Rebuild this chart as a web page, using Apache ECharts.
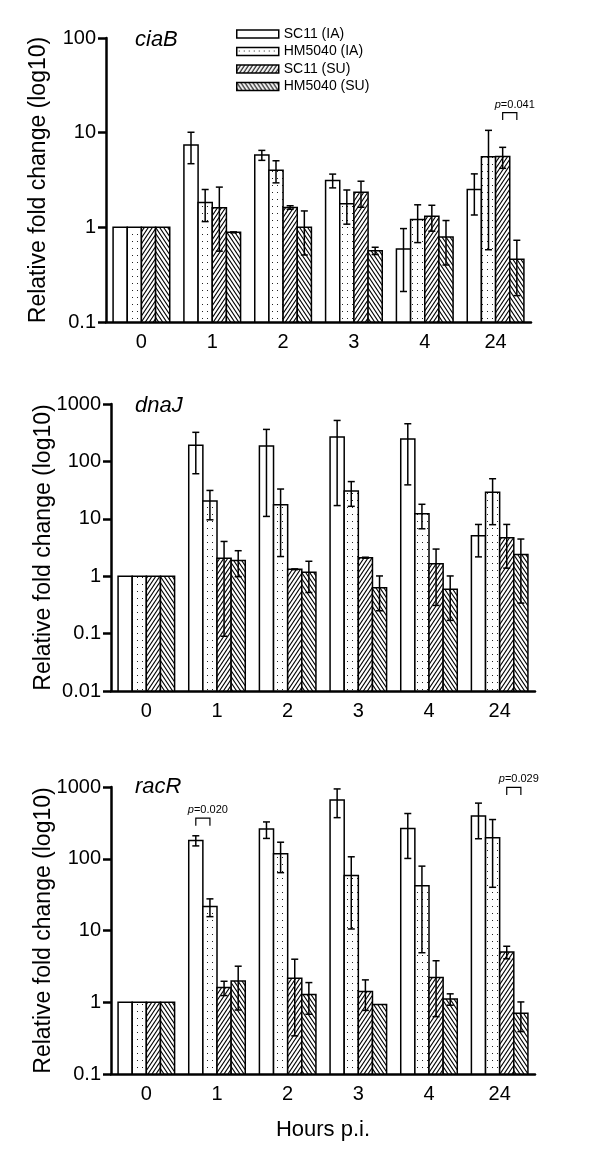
<!DOCTYPE html>
<html><head><meta charset="utf-8">
<script src="https://cdn.jsdelivr.net/npm/echarts@6/dist/echarts.min.js"></script>
<style>html,body{margin:0;padding:0;background:#fff}#c{width:600px;height:1164px}</style>
</head><body><div id="c"></div>
<script>
// ---------- data ----------
const categories = ['0', '1', '2', '3', '4', '24'];
const seriesNames = ['SC11 (IA)', 'HM5040 (IA)', 'SC11 (SU)', 'HM5040 (SU)'];
const genes = ['ciaB', 'dnaJ', 'racR'];

// ciaB means and SDs (linear fold change)
const ciaB_SC11_IA = [1, 7.4, 5.8, 3.13, 0.59, 2.51];
const ciaB_HM_IA   = [1, 1.83, 4.0, 1.78, 1.21, 5.58];
const ciaB_SC11_SU = [1, 1.61, 1.62, 2.35, 1.31, 5.6];
const ciaB_HM_SU   = [1, 0.885, 1.0, 0.566, 0.79, 0.46];
const ciaB_SC11_IA_sd = [0, 2.7, 0.7, 0.52, 0.38, 1.16];
const ciaB_HM_IA_sd   = [0, 0.68, 1.05, 0.7, 0.52, 5.0];
const ciaB_SC11_SU_sd = [0, 1.05, 0.07, 0.72, 0.4, 1.4];
const ciaB_HM_SU_sd   = [0, 0.01, 0.49, 0.05, 0.39, 0.27];

// dnaJ
const dnaJ_SC11_IA = [1, 191, 186, 267, 246, 5.07];
const dnaJ_HM_IA   = [1, 20.4, 17.6, 30.5, 12.3, 28.9];
const dnaJ_SC11_SU = [1, 2.06, 1.32, 2.1, 1.64, 4.68];
const dnaJ_HM_SU   = [1, 1.88, 1.17, 0.63, 0.59, 2.39];
const dnaJ_SC11_IA_sd = [0, 130, 175, 250, 207, 2.9];
const dnaJ_HM_IA_sd   = [0, 10.8, 15.4, 14, 5.6, 21];
const dnaJ_SC11_SU_sd = [0, 1.97, 0.02, 0.04, 1.33, 3.3];
const dnaJ_HM_SU_sd   = [0, 0.9, 0.65, 0.38, 0.42, 2.05];

// racR
const racR_SC11_IA = [1, 180, 259, 657, 264, 393];
const racR_HM_IA   = [1, 21.6, 117, 58.5, 41.9, 196];
const racR_SC11_SU = [1, 1.6, 2.16, 1.41, 2.21, 5.03];
const racR_HM_SU   = [1, 1.98, 1.28, 0.93, 1.11, 0.70];
const racR_SC11_IA_sd = [0, 29, 67, 283, 163, 203];
const racR_HM_IA_sd   = [0, 6, 53, 48, 37, 156];
const racR_SC11_SU_sd = [0, 0.36, 1.82, 0.64, 1.58, 1.0];
const racR_HM_SU_sd   = [0, 1.2, 0.6, 0, 0.2, 0.31];

// y tick labels per panel
const ciaB_ticks = ['0.1', '1', '10', '100'];
const dnaJ_ticks = ['0.01', '0.1', '1', '10', '100', '1000'];
const racR_ticks = ['0.1', '1', '10', '100', '1000'];

// p-value annotations
const pAnnotPanel = [0, 2, 2];
const pAnnotCat   = [5, 1, 5];
const pAnnotFrom  = [2, 0, 2];
const pAnnotTo    = [3, 1, 3];
const pAnnotY     = [16.3, 368, 987];
const pAnnotText  = ['0.041', '0.020', '0.029'];

// ---------- assembly ----------
const panels = [
  { means: [ciaB_SC11_IA, ciaB_HM_IA, ciaB_SC11_SU, ciaB_HM_SU],
    sds: [ciaB_SC11_IA_sd, ciaB_HM_IA_sd, ciaB_SC11_SU_sd, ciaB_HM_SU_sd], ticks: ciaB_ticks },
  { means: [dnaJ_SC11_IA, dnaJ_HM_IA, dnaJ_SC11_SU, dnaJ_HM_SU],
    sds: [dnaJ_SC11_IA_sd, dnaJ_HM_IA_sd, dnaJ_SC11_SU_sd, dnaJ_HM_SU_sd], ticks: dnaJ_ticks },
  { means: [racR_SC11_IA, racR_HM_IA, racR_SC11_SU, racR_HM_SU],
    sds: [racR_SC11_IA_sd, racR_HM_IA_sd, racR_SC11_SU_sd, racR_HM_SU_sd], ticks: racR_ticks }
];

const FONT = '"Liberation Sans", Arial, Helvetica, sans-serif';

function makeCanvas(w, h) { const c = document.createElement('canvas'); c.width = w; c.height = h; return c; }
function whitePattern() { const c = makeCanvas(4, 4); const g = c.getContext('2d'); g.fillStyle = '#fff'; g.fillRect(0, 0, 4, 4); return c; }
function dotPattern() {
  const c = makeCanvas(5, 7); const g = c.getContext('2d');
  g.fillStyle = '#fff'; g.fillRect(0, 0, 5, 7);
  g.fillStyle = '#222'; g.fillRect(2, 3, 1, 1);
  return c;
}
function hatchPattern(dir) {
  const w = 4, h = 6; const c = makeCanvas(w, h); const g = c.getContext('2d');
  g.fillStyle = '#fff'; g.fillRect(0, 0, w, h);
  g.strokeStyle = '#000'; g.lineWidth = 1.1; g.lineCap = 'square';
  for (const s of [-w, 0, w]) {
    g.beginPath();
    if (dir > 0) { g.moveTo(s, h); g.lineTo(s + w, 0); }
    else { g.moveTo(s, 0); g.lineTo(s + w, h); }
    g.stroke();
  }
  return c;
}
const patterns = [
  { image: whitePattern(), repeat: 'repeat' },
  { image: dotPattern(), repeat: 'repeat' },
  { image: hatchPattern(1), repeat: 'repeat' },
  { image: hatchPattern(-1), repeat: 'repeat' }
];

const gridDefs = [
  { left: 106, right: 69, top: 38, height: 284 },
  { left: 111, right: 65, top: 404, height: 287 },
  { left: 111, right: 65, top: 787, height: 287 }
];

function makeBarRenderer(k, yMin) {
  return function (params, api) {
    const ci = api.value(0), m = api.value(1), s = api.value(2);
    const band = api.size([1, 1])[0];
    const bw = band * 0.8 / 4;
    const top = api.coord([ci, m]);
    const base = api.coord([ci, yMin]);
    const cx = top[0] + (k - 1.5) * bw;
    const children = [{
      type: 'rect',
      shape: { x: cx - bw / 2, y: top[1], width: bw, height: base[1] - top[1] },
      style: { fill: patterns[k], stroke: '#000', lineWidth: 1.5 }
    }];
    if (s > 0) {
      const hi = api.coord([ci, m + s])[1];
      const lo = api.coord([ci, Math.max(m - s, yMin)])[1];
      const cap = 3.5;
      const st = { stroke: '#000', lineWidth: 1.5 };
      children.push({ type: 'line', shape: { x1: cx, y1: hi, x2: cx, y2: lo }, style: st });
      children.push({ type: 'line', shape: { x1: cx - cap, y1: hi, x2: cx + cap, y2: hi }, style: st });
      children.push({ type: 'line', shape: { x1: cx - cap, y1: lo, x2: cx + cap, y2: lo }, style: st });
    }
    return { type: 'group', children: children };
  };
}

function annotRenderer(params, api) {
  const ci = api.value(0), kf = api.value(1), kt = api.value(2), yv = api.value(3);
  const band = api.size([1, 1])[0];
  const bw = band * 0.8 / 4;
  const c = api.coord([ci, yv]);
  const x1 = c[0] + (kf - 1.5) * bw, x2 = c[0] + (kt - 1.5) * bw;
  const y = c[1];
  const label = api.value(4);
  return {
    type: 'group', children: [
      { type: 'polyline', shape: { points: [[x1, y + 7.5], [x1, y], [x2, y], [x2, y + 7.5]] },
        style: { stroke: '#000', lineWidth: 1.2, fill: null } },
      { type: 'text', x: (x1 + x2) / 2 + 5, y: y - 8,
        style: { text: '{i|p}=' + label, fill: '#000', font: '11px ' + FONT,
                 align: 'center', verticalAlign: 'middle',
                 rich: { i: { fontStyle: 'italic', fontSize: 11, fontFamily: FONT } } } }
    ]
  };
}

const grids = [], xAxes = [], yAxes = [], series = [], titles = [];
const titleTops = [29, 395, 776];

panels.forEach(function (p, pi) {
  grids.push(Object.assign({ containLabel: false }, gridDefs[pi]));
  const yMin = +p.ticks[0], yMax = +p.ticks[p.ticks.length - 1];
  xAxes.push({
    type: 'category', gridIndex: pi, data: categories,
    axisLine: { lineStyle: { color: '#000', width: 2.5 } },
    axisTick: { alignWithLabel: true, length: 8, lineStyle: { color: '#000', width: 2.5 } },
    axisLabel: { color: '#000', fontSize: 20, fontFamily: FONT, margin: 10 },
    name: pi === 2 ? 'Hours p.i.' : '',
    nameLocation: 'middle', nameGap: 45, nameMoveOverlap: false,
    nameTextStyle: { color: '#000', fontSize: 22, fontFamily: FONT }
  });
  yAxes.push({
    type: 'log', logBase: 10, gridIndex: pi, min: yMin, max: yMax,
    splitNumber: p.ticks.length - 1,
    axisLine: { show: true, lineStyle: { color: '#000', width: 2.5 } },
    axisTick: { show: true, length: 8, lineStyle: { color: '#000', width: 2.5 } },
    axisLabel: {
      color: '#000', fontSize: 20, fontFamily: FONT, margin: 10,
      formatter: function (v) {
        const lv = Math.round(Math.log10(v));
        for (const t of p.ticks) { if (Math.round(Math.log10(+t)) === lv) return t; }
        return '';
      }
    },
    splitLine: { show: false },
    minorTick: { show: false },
    name: 'Relative fold change (log10)',
    nameLocation: 'middle', nameGap: 56, nameRotate: 90, nameMoveOverlap: false,
    nameTextStyle: { color: '#000', fontSize: 23, fontFamily: FONT }
  });
  titles.push({
    text: genes[pi], left: 135, top: titleTops[pi], padding: 0,
    textStyle: { fontStyle: 'italic', fontWeight: 'normal', fontSize: 22, fontFamily: FONT, color: '#000' }
  });
  for (let k = 0; k < 4; k++) {
    series.push({
      type: 'custom', name: seriesNames[k], xAxisIndex: pi, yAxisIndex: pi,
      coordinateSystem: 'cartesian2d',
      data: p.means[k].map(function (m, i) { return [i, m, p.sds[k][i]]; }),
      encode: { x: 0, y: 1 },
      renderItem: makeBarRenderer(k, yMin),
      itemStyle: { color: patterns[k], borderColor: '#000', borderWidth: 1.5 },
      clip: false, z: 2, silent: true
    });
  }
  const ann = [];
  pAnnotPanel.forEach(function (pp, j) {
    if (pp === pi) ann.push([pAnnotCat[j], pAnnotFrom[j], pAnnotTo[j], pAnnotY[j], pAnnotText[j]]);
  });
  if (ann.length) {
    series.push({
      type: 'custom', name: 'p-values', xAxisIndex: pi, yAxisIndex: pi,
      coordinateSystem: 'cartesian2d', data: ann,
      dimensions: ['cat', 'from', 'to', 'y', { name: 'label', type: 'ordinal' }],
      encode: { x: 0, y: 3 },
      renderItem: annotRenderer, clip: false, z: 3, silent: true
    });
  }
});

const chart = echarts.init(document.getElementById('c'), null, { renderer: 'canvas' });
chart.setOption({
  backgroundColor: '#fff',
  animation: false,
  title: titles,
  legend: {
    left: 236, top: 27, orient: 'vertical', padding: 0,
    itemWidth: 42, itemHeight: 8, itemGap: 3.5,
    textStyle: { color: '#000', fontSize: 14, fontFamily: FONT },
    data: seriesNames.map(function (n, k) {
      return { name: n, icon: 'rect', itemStyle: { color: patterns[k], borderColor: '#000', borderWidth: 1.5 } };
    })
  },
  grid: grids, xAxis: xAxes, yAxis: yAxes, series: series
});
</script></body></html>
